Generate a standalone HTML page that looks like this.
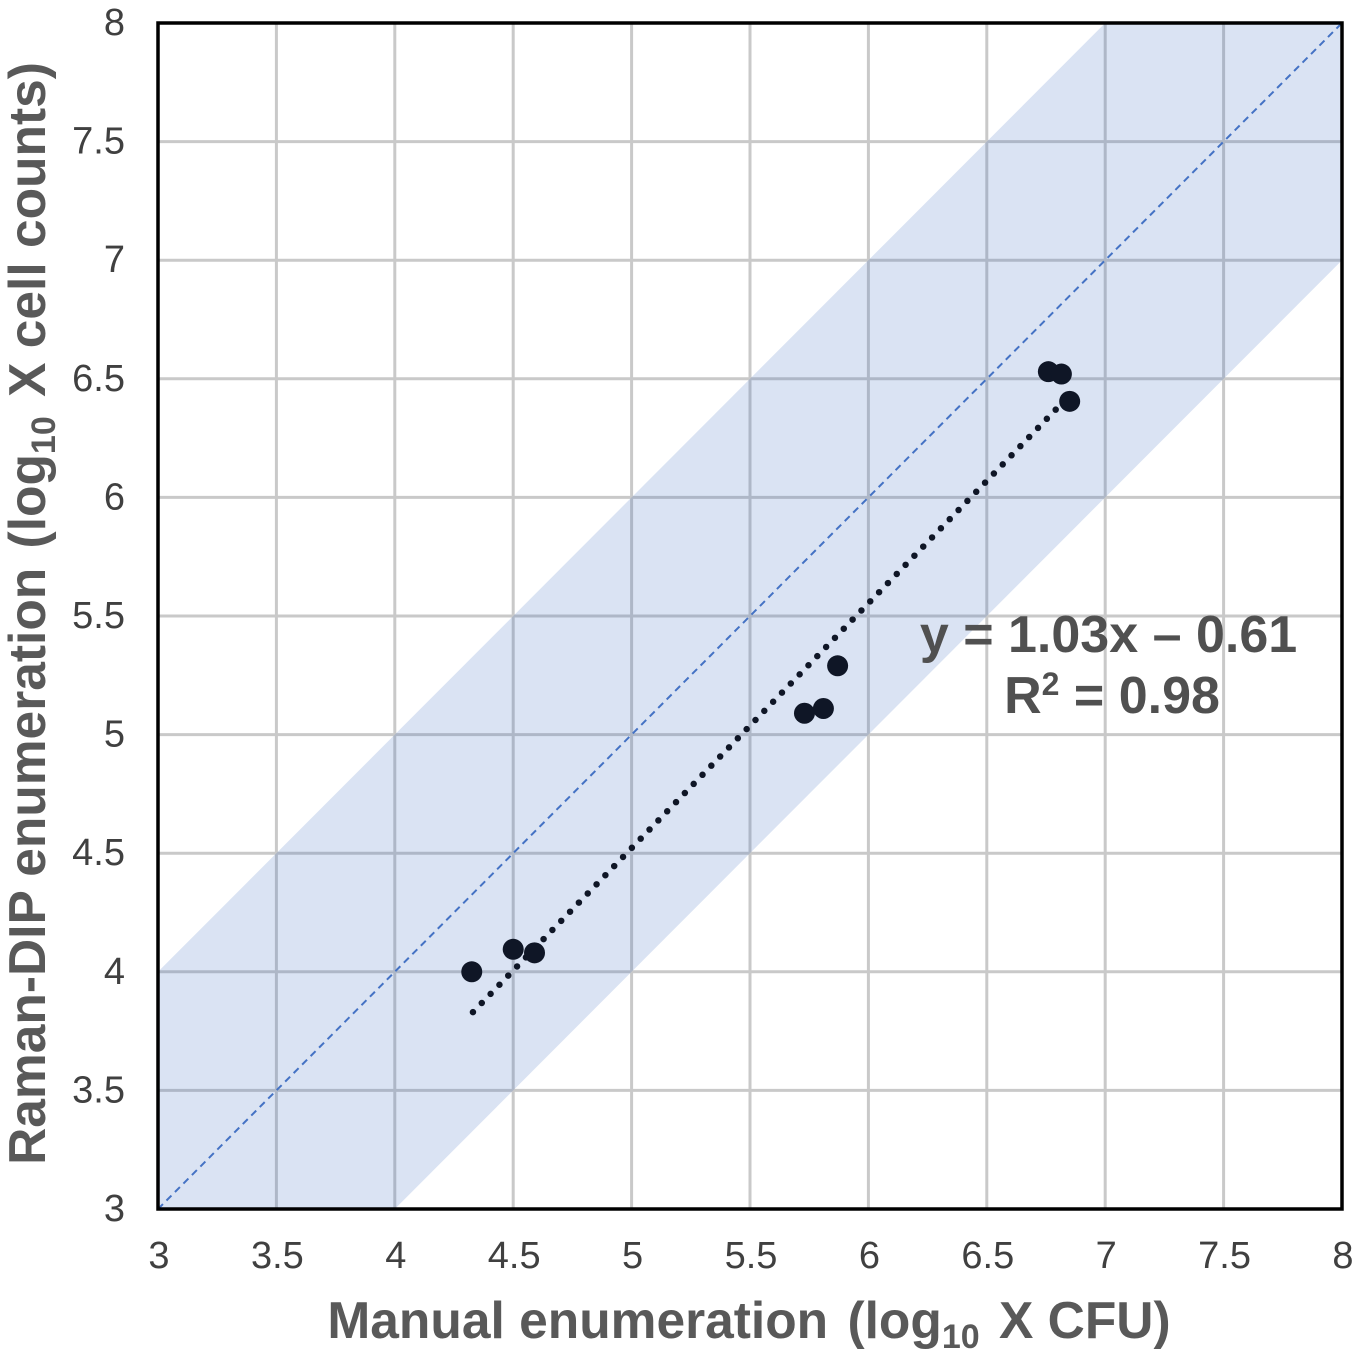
<!DOCTYPE html>
<html lang="en">
<head>
<meta charset="utf-8">
<title>Raman-DIP vs manual enumeration</title>
<style>
html,body{margin:0;padding:0;background:#fff}
svg{display:block;font-family:"Liberation Sans",Arial,sans-serif}
.tick{font-size:38px;fill:#404040}
.title{font-size:51.5px;font-weight:bold;fill:#595959}
.eq{font-size:52px;font-weight:bold;fill:#505050}
</style>
</head>
<body>
<svg id="chart" width="1361" height="1355" viewBox="0 0 1361 1355" xmlns="http://www.w3.org/2000/svg">
  <rect x="0" y="0" width="1361" height="1355" fill="#ffffff"/>
  <g id="grid"></g>
  <polygon id="band" fill="#4472c4" fill-opacity="0.2"></polygon>
  <line id="identity" stroke="#4472c4" stroke-width="2" stroke-dasharray="7 5"></line>
  <line id="trend" stroke="#0f1626" stroke-width="6.5" stroke-linecap="round" stroke-dasharray="0 12.7"></line>
  <g id="points"></g>
  <rect id="frame" fill="none" stroke="#000000" stroke-width="3.5"></rect>
  <g id="xticks"></g>
  <g id="yticks"></g>
  <text class="title" x="749" y="1338" text-anchor="middle">Manual enumeration <tspan dx="5">(log</tspan><tspan font-size="34" dy="10">10</tspan><tspan dy="-10" dx="5"> X CFU)</tspan></text>
  <text class="title" transform="translate(45,613.5) rotate(-90)" text-anchor="middle">Raman-DIP enumeration <tspan dx="5">(log</tspan><tspan font-size="34" dy="10">10</tspan><tspan dy="-10" dx="5"> X cell counts)</tspan></text>
  <text class="eq" x="1108.5" y="652" text-anchor="middle">y = 1.03x – 0.61</text>
  <text class="eq" x="1112" y="713" text-anchor="middle">R<tspan font-size="32" dy="-18">2</tspan><tspan dy="18"> = 0.98</tspan></text>
</svg>
<script>
var xTickValues = ["3","3.5","4","4.5","5","5.5","6","6.5","7","7.5","8"];
var yTickValues = ["3","3.5","4","4.5","5","5.5","6","6.5","7","7.5","8"];
var pointX = [4.325,4.50,4.59,5.73,5.81,5.87,6.76,6.815,6.85];
var pointY = [4.00,4.095,4.08,5.09,5.11,5.29,6.53,6.52,6.405];
var trendX = [4.33,6.82];
var trendY = [3.83,6.40];
var identityX = [3,8];
var identityY = [3,8];
var bandX = [3,7,8,8,4,3];
var bandY = [4,8,8,7,3,3];

var NS = 'http://www.w3.org/2000/svg';
function sx(v){ return 158 + (v - 3) * 236.8; }
function sy(v){ return 1209 - (v - 3) * 237.2; }
function make(tag, parent){
  var el = document.createElementNS(NS, tag);
  parent.appendChild(el);
  return el;
}

var grid = document.getElementById('grid');
xTickValues.forEach(function(t){
  var v = parseFloat(t);
  if (v === 3 || v === 8) return;
  var l = make('line', grid);
  
  
  l.setAttribute('x1', sx(v));
  l.setAttribute('x2', sx(v));
  l.setAttribute('y1', sy(8));
  l.setAttribute('y2', sy(3));
  l.setAttribute('stroke', '#c9c9c9');
  l.setAttribute('stroke-width', '3');
});
yTickValues.forEach(function(t){
  var v = parseFloat(t);
  if (v === 3 || v === 8) return;
  var l = make('line', grid);
  
  
  l.setAttribute('x1', sx(3));
  l.setAttribute('x2', sx(8));
  l.setAttribute('y1', sy(v));
  l.setAttribute('y2', sy(v));
  l.setAttribute('stroke', '#c9c9c9');
  l.setAttribute('stroke-width', '3');
});

document.getElementById('band').setAttribute('points', bandX.map(function(x, i){
  return sx(x) + ',' + sy(bandY[i]);
}).join(' '));

var identity = document.getElementById('identity');
identity.setAttribute('x1', sx(identityX[0]));
identity.setAttribute('y1', sy(identityY[0]));
identity.setAttribute('x2', sx(identityX[1]));
identity.setAttribute('y2', sy(identityY[1]));

var trend = document.getElementById('trend');
trend.setAttribute('x1', sx(trendX[0]));
trend.setAttribute('y1', sy(trendY[0]));
trend.setAttribute('x2', sx(trendX[1]));
trend.setAttribute('y2', sy(trendY[1]));

var points = document.getElementById('points');
pointX.forEach(function(x, i){
  var c = make('circle', points);
  
  
  c.setAttribute('cx', sx(x));
  c.setAttribute('cy', sy(pointY[i]));
  c.setAttribute('r', '10.5');
  c.setAttribute('fill', '#0f1626');
});

var frame = document.getElementById('frame');
frame.setAttribute('x', sx(3));
frame.setAttribute('y', sy(8));
frame.setAttribute('width', sx(8) - sx(3));
frame.setAttribute('height', sy(3) - sy(8));

var xticks = document.getElementById('xticks');
xTickValues.forEach(function(t){
  var el = make('text', xticks);
  
  
  el.setAttribute('class', 'tick');
  el.setAttribute('x', sx(parseFloat(t)) + 1);
  el.setAttribute('y', '1268');
  el.setAttribute('text-anchor', 'middle');
  el.textContent = t;
});
var yticks = document.getElementById('yticks');
yTickValues.forEach(function(t){
  var el = make('text', yticks);
  
  
  el.setAttribute('class', 'tick');
  el.setAttribute('x', '125');
  el.setAttribute('y', sy(parseFloat(t)) + 12);
  el.setAttribute('text-anchor', 'end');
  el.textContent = t;
});
</script>
</body>
</html>
